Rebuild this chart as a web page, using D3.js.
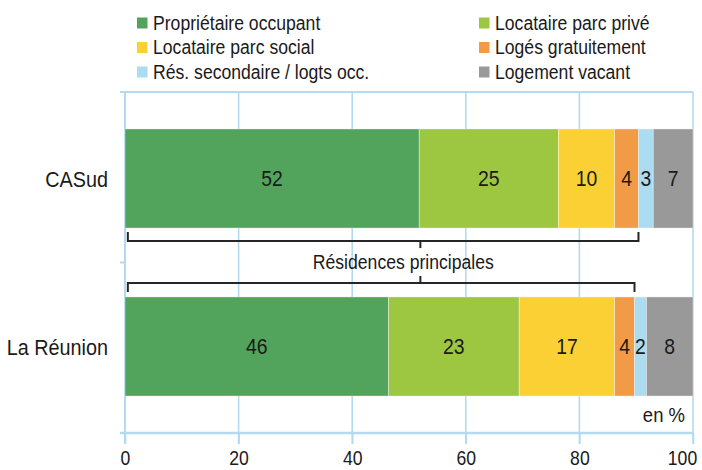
<!DOCTYPE html>
<html>
<head>
<meta charset="utf-8">
<script src="https://cdn.jsdelivr.net/npm/d3@7"></script>
<style>
  body { margin: 0; background: #fff; }
  svg { display: block; font-family: Arial, "Liberation Sans", sans-serif; }
</style>
</head>
<body>
<div id="chart"></div>
<script>
const categories = ['CASud', 'La Réunion'];
const seriesNames = [
  'Propriétaire occupant',
  'Locataire parc privé',
  'Locataire parc social',
  'Logés gratuitement',
  'Rés. secondaire / logts occ.',
  'Logement vacant'
];
const seriesColors = ['#52a45c', '#9dc641', '#fbd035', '#f29b47', '#acdcf0', '#999999'];
const valuesCASud = [51.8, 24.5, 9.9, 4.2, 2.6, 7.0];
const valuesReunion = [46.4, 23.0, 16.8, 3.5, 2.1, 8.2];
const xTicks = [0, 20, 40, 60, 80, 100];
// first four series = résidences principales
const bracketSeriesCount = 4;
const bracketLabel = 'Résidences principales';
const bracketMid = 52;

const width = 702, height = 470;
const margin = {top: 92, right: 9, bottom: 37, left: 125};
const textColor = '#1a1a1a';
// the original uses a narrow grotesque, squeeze Arial a bit
const squeeze = 0.88;

function condense(sel) {
  sel.each(function() {
    const w = this.getComputedTextLength();
    d3.select(this)
      .attr('textLength', w * squeeze)
      .attr('lengthAdjust', 'spacingAndGlyphs');
  });
}

const rows = categories.map((c, i) => {
  const vals = i === 0 ? valuesCASud : valuesReunion;
  const row = {category: c};
  seriesNames.forEach((s, j) => { row[s] = vals[j]; });
  return row;
});

const stacked = d3.stack().keys(seriesNames)(rows);

const svg = d3.select('#chart').append('svg')
  .attr('width', width)
  .attr('height', height);

const x = d3.scaleLinear()
  .domain([0, 100])
  .range([margin.left, width - margin.right]);

const y = d3.scaleBand()
  .domain(categories)
  .range([margin.top, height - margin.bottom])
  .paddingInner(0.41)
  .paddingOuter(0.22);

const gridColor = '#b3daf1';
const plotBottom = height - margin.bottom;

// grid lines
svg.append('g')
  .selectAll('line')
  .data(xTicks)
  .enter()
  .append('line')
  .attr('x1', d => x(d))
  .attr('x2', d => x(d))
  .attr('y1', margin.top)
  .attr('y2', plotBottom + 11)
  .attr('stroke', gridColor)
  .attr('stroke-width', 1.6);

// top border
svg.append('line')
  .attr('x1', x(0) - 5)
  .attr('x2', x(100))
  .attr('y1', margin.top)
  .attr('y2', margin.top)
  .attr('stroke', gridColor)
  .attr('stroke-width', 2);

// y axis (left line + band boundary ticks)
const yAxis = d3.axisLeft(y).tickSize(0).tickFormat('');
const yAxisGroup = svg.append('g')
  .attr('transform', 'translate(' + x(0) + ',0)')
  .call(yAxis);
yAxisGroup.select('.domain').remove();
yAxisGroup.append('line')
  .attr('x1', 0).attr('x2', 0)
  .attr('y1', margin.top).attr('y2', plotBottom + 11)
  .attr('stroke', gridColor)
  .attr('stroke-width', 2);
const boundaries = [margin.top, (y(categories[0]) + y.bandwidth() + y(categories[1])) / 2, plotBottom];
yAxisGroup.selectAll('.bound')
  .data(boundaries)
  .enter()
  .append('line')
  .attr('class', 'bound')
  .attr('x1', -5).attr('x2', 0)
  .attr('y1', d => d).attr('y2', d => d)
  .attr('stroke', gridColor)
  .attr('stroke-width', 2);

// x axis
const xAxis = d3.axisBottom(x)
  .tickValues(xTicks)
  .tickSize(11)
  .tickSizeOuter(0)
  .tickPadding(7);
const xAxisGroup = svg.append('g')
  .attr('transform', 'translate(0,' + plotBottom + ')')
  .call(xAxis);
xAxisGroup.select('.domain')
  .attr('d', 'M' + (x(0) - 5) + ',0H' + x(100))
  .attr('stroke', gridColor)
  .attr('stroke-width', 2.5);
xAxisGroup.selectAll('.tick line')
  .attr('stroke', gridColor)
  .attr('stroke-width', 1.6);
xAxisGroup.selectAll('.tick text')
  .attr('font-size', 20)
  .attr('fill', textColor)
  .attr('dx', d => d === 100 ? -11 : 0)
  .attr('font-family', 'Arial, "Liberation Sans", sans-serif')
  .call(condense);

// bars
const layers = svg.append('g')
  .selectAll('g')
  .data(stacked)
  .enter()
  .append('g')
  .attr('fill', (d, i) => seriesColors[i]);

layers.selectAll('rect')
  .data(d => d)
  .enter()
  .append('rect')
  .attr('x', d => x(d[0]))
  .attr('y', d => y(d.data.category))
  .attr('width', d => x(d[1]) - x(d[0]))
  .attr('height', y.bandwidth())
  .attr('stroke', '#ffffff')
  .attr('stroke-opacity', 0.45)
  .attr('stroke-width', 0.8);

layers.selectAll('text')
  .data(d => d)
  .enter()
  .append('text')
  .text(d => Math.round(d[1] - d[0]))
  .attr('x', d => (x(d[0]) + x(d[1])) / 2)
  .attr('y', d => y(d.data.category) + y.bandwidth() / 2)
  .attr('dy', '0.36em')
  .attr('text-anchor', 'middle')
  .attr('font-size', 22)
  .attr('fill', textColor)
  .call(condense);

// category labels
svg.append('g')
  .selectAll('text')
  .data(categories)
  .enter()
  .append('text')
  .text(d => d)
  .attr('x', x(0) - 17)
  .attr('y', d => y(d) + y.bandwidth() / 2)
  .attr('dy', '0.36em')
  .attr('text-anchor', 'end')
  .attr('font-size', 22.5)
  .attr('fill', textColor)
  .call(condense);

// brackets for résidences principales
const bracketEnd = categories.map((c, i) => {
  const vals = i === 0 ? valuesCASud : valuesReunion;
  return d3.sum(vals.slice(0, bracketSeriesCount));
});
const topBarBottom = y(categories[0]) + y.bandwidth();
const botBarTop = y(categories[1]);
const bracketG = svg.append('g')
  .attr('fill', 'none')
  .attr('stroke', '#262626')
  .attr('stroke-width', 2);

const y1 = topBarBottom + 13;
bracketG.append('path')
  .attr('d', 'M' + x(0.5) + ',' + (y1 - 9) + 'V' + y1 + 'H' + x(bracketEnd[0]) + 'V' + (y1 - 9));
bracketG.append('path')
  .attr('d', 'M' + x(bracketMid) + ',' + y1 + 'V' + (y1 + 7));

const y2 = botBarTop - 14;
bracketG.append('path')
  .attr('d', 'M' + x(0.5) + ',' + (y2 + 9) + 'V' + y2 + 'H' + x(bracketEnd[1]) + 'V' + (y2 + 9));
bracketG.append('path')
  .attr('d', 'M' + x(bracketMid) + ',' + y2 + 'V' + (y2 - 7));

svg.append('text')
  .text(bracketLabel)
  .attr('x', x(49))
  .attr('y', (y1 + y2) / 2)
  .attr('dy', '0.36em')
  .attr('text-anchor', 'middle')
  .attr('font-size', 20)
  .attr('fill', textColor)
  .call(condense);

// unit
svg.append('text')
  .text('en %')
  .attr('x', x(100) - 8)
  .attr('y', plotBottom - 11)
  .attr('text-anchor', 'end')
  .attr('font-size', 21)
  .attr('fill', textColor)
  .call(condense);

// legend
const legend = svg.append('g')
  .selectAll('g')
  .data(seriesNames)
  .enter()
  .append('g')
  .attr('transform', (d, i) => 'translate(' + (i % 2 === 0 ? 153 : 495) + ',' + (29.5 + Math.floor(i / 2) * 24.5) + ')');

legend.append('rect')
  .attr('x', -16)
  .attr('y', -12)
  .attr('width', 10.5)
  .attr('height', 11)
  .attr('fill', (d, i) => seriesColors[i]);

legend.append('text')
  .text(d => d)
  .attr('x', 0)
  .attr('y', 0)
  .attr('font-size', 20)
  .attr('fill', textColor)
  .call(condense);
</script>
</body>
</html>
